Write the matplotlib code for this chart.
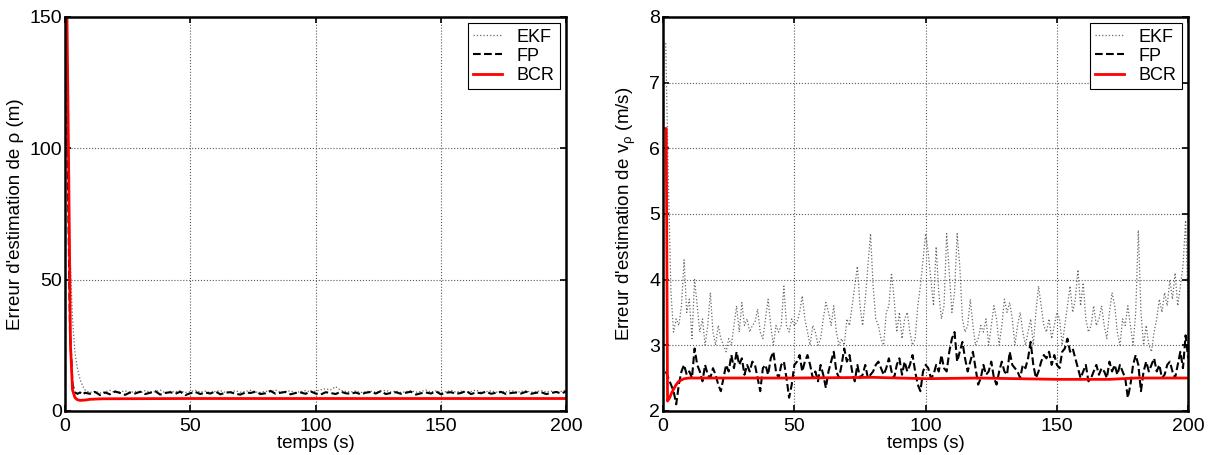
import numpy as np
import matplotlib
matplotlib.use("Agg")
from matplotlib import pyplot as plt

plt.rcParams['font.family'] = ['Liberation Sans', 'DejaVu Sans']
plt.rcParams['mathtext.fontset'] = 'custom'
plt.rcParams['mathtext.rm'] = 'Liberation Sans'
plt.rcParams['mathtext.it'] = 'Liberation Sans'
plt.rcParams['font.size'] = 14

# ---- left panel : erreur sur rho ----
t_ekf_l_start = [0.5, 1, 2, 3, 4, 5, 6, 7, 8, 9]
ekf_l_start = [150, 120, 60, 35, 22, 16, 12, 9.5, 8, 7.4]
t_fp_l_start = [0.5, 1, 2, 3, 4, 5, 6, 7, 8]
fp_l_start = [150, 100, 30, 10, 7, 6.5, 7, 6.2, 6.9]
t_l_noise = list(range(10, 201, 2))
fp_l_noise = [
    6.5, 7.2, 6.0, 7.0, 6.3, 7.4, 6.8, 6.1, 7.0, 6.6, 7.3, 6.4, 6.9, 7.5, 6.2, 6.8, 7.1, 6.5, 7.3, 6.0,
    6.7, 7.2, 6.4, 7.0, 6.6, 7.4, 6.3, 6.9, 7.1, 6.5, 6.2, 7.0, 6.8, 7.3, 6.4, 6.7, 7.6, 6.5, 6.9, 7.2,
    6.3, 6.8, 7.0, 6.5, 7.4, 6.6, 6.2, 7.1, 6.8, 6.4, 7.3, 6.7, 6.5, 7.0, 6.3, 6.9, 7.2, 6.6, 7.5, 6.4,
    6.8, 7.1, 6.5, 6.9, 7.3, 6.2, 6.7, 7.0, 6.6, 7.4, 6.3, 6.9, 7.1, 6.5, 6.8, 7.6, 6.4, 7.0, 6.7, 7.3,
    6.5, 6.9, 7.2, 6.4, 6.8, 7.0, 6.6, 7.3, 6.5, 6.9, 7.1, 6.4, 6.8, 7.2, 6.6, 7.4]
ekf_l_noise = [
    7.0, 7.5, 6.8, 7.3, 7.8, 6.9, 7.2, 7.6, 7.0, 7.4, 6.8, 7.7, 7.1, 7.3, 7.9, 6.9, 7.4, 7.2, 7.6, 7.0,
    7.3, 7.8, 7.1, 7.5, 6.9, 7.4, 7.7, 7.0, 7.3, 7.6, 7.1, 7.4, 7.8, 7.2, 7.0, 7.5, 7.3, 7.9, 7.1, 7.4,
    7.6, 7.0, 7.3, 7.7, 7.2, 7.5, 8.0, 8.4, 8.0, 9.2, 7.8, 7.4, 7.2, 7.6, 7.0, 7.3, 7.5, 7.1, 7.4, 7.8,
    7.2, 7.5, 7.0, 7.3, 7.7, 7.1, 7.4, 7.9, 7.2, 7.6, 7.0, 7.3, 7.8, 7.1, 7.5, 7.2, 7.4, 7.9, 7.0, 7.3,
    7.6, 7.1, 7.5, 7.2, 7.8, 7.0, 7.4, 7.6, 7.1, 7.3, 7.7, 7.2, 7.5, 7.0, 7.4, 8.0]
t_bcr_l = [0.8, 1.5, 2.2, 3, 4, 5, 6, 8, 10, 15, 50, 100, 150, 200]
bcr_l = [150, 90, 25, 8, 5, 4.2, 4.0, 4.1, 4.4, 4.6, 4.7, 4.7, 4.7, 4.7]

# ---- right panel : erreur sur v_rho ----
t_r = list(range(1, 201))
ekf_r = [
    7.6, 5.5, 3.8, 3.2, 3.4, 3.3, 3.6, 4.3, 3.5, 3.7, 3.1, 4.0, 3.6, 3.2, 3.4, 3.0, 3.3, 3.8, 3.2, 3.0,
    3.3, 3.1, 3.0, 2.9, 3.1, 3.0, 3.3, 3.6, 3.2, 3.65, 3.3, 3.4, 3.2, 3.3, 3.35, 3.55, 3.2, 3.1, 3.4, 3.7,
    3.3, 3.0, 3.3, 3.2, 3.3, 3.9, 3.3, 3.2, 3.4, 3.3, 3.35, 3.5, 3.75, 3.4, 3.2, 3.0, 3.3, 3.2, 3.0, 3.1,
    3.4, 3.65, 3.5, 3.3, 3.6, 3.2, 3.0, 3.1, 3.0, 3.4, 3.3, 3.6, 3.9, 4.2, 3.6, 3.3, 3.7, 4.2, 4.7, 3.9,
    3.4, 3.3, 3.1, 3.0, 3.5, 3.6, 4.1, 3.7, 3.2, 3.5, 3.1, 3.4, 3.5, 3.2, 3.0, 3.1, 3.6, 3.9, 4.3, 4.7,
    4.4, 4.0, 3.6, 4.5, 3.8, 3.4, 3.6, 4.7, 4.1, 3.5, 3.8, 4.7, 4.2, 3.4, 3.2, 3.3, 3.7, 3.3, 3.0, 3.1,
    3.3, 3.2, 3.4, 3.0, 3.3, 3.6, 3.4, 3.0, 3.3, 3.7, 3.5, 3.65, 3.4, 3.0, 3.3, 3.5, 3.2, 3.0, 3.2, 3.4,
    3.0, 3.5, 3.9, 3.6, 3.3, 3.2, 3.4, 3.1, 3.3, 3.5, 3.4, 3.0, 3.3, 3.6, 3.9, 3.5, 3.7, 4.15, 3.6, 3.95,
    3.4, 3.2, 3.3, 3.6, 3.3, 3.4, 3.6, 3.3, 3.1, 3.5, 3.8, 3.6, 3.2, 3.0, 3.4, 3.3, 3.6, 3.3, 3.0, 3.5,
    4.75, 3.5, 3.0, 3.3, 3.0, 2.9, 3.2, 3.4, 3.7, 3.5, 3.8, 3.6, 4.0, 3.7, 4.1, 3.6, 3.9, 4.2, 4.9, 3.6]
fp_r = [
    2.6, 2.5, 2.4, 2.3, 2.1, 2.4, 2.6, 2.7, 2.55, 2.6, 2.5, 2.95, 2.7, 2.6, 2.45, 2.7, 2.55, 2.5, 2.65, 2.55,
    2.4, 2.3, 2.5, 2.7, 2.6, 2.85, 2.65, 2.9, 2.7, 2.8, 2.55, 2.7, 2.6, 2.75, 2.7, 2.5, 2.3, 2.65, 2.7, 2.55,
    2.8, 2.9, 2.6, 2.5, 2.7, 2.75, 2.5, 2.2, 2.4, 2.7, 2.75, 2.85, 2.6, 2.75, 2.85, 2.7, 2.5, 2.6, 2.45, 2.7,
    2.55, 2.35, 2.6, 2.75, 2.9, 2.6, 2.5, 2.7, 2.95, 2.75, 2.85, 2.6, 2.45, 2.7, 2.5, 2.55, 2.7, 2.5, 2.55, 2.6,
    2.7, 2.75, 2.65, 2.55, 2.65, 2.8, 2.6, 2.5, 2.7, 2.8, 2.55, 2.75, 2.6, 2.7, 2.85, 2.6, 2.4, 2.3, 2.6, 2.7,
    2.65, 2.5, 2.55, 2.7, 2.6, 2.85, 2.65, 2.6, 2.9, 3.1, 3.2, 2.75, 2.9, 3.05, 2.8, 2.6, 2.75, 2.9, 2.65, 2.4,
    2.5, 2.7, 2.55, 2.6, 2.75, 2.5, 2.4, 2.6, 2.75, 2.6, 2.55, 2.9, 2.7, 2.65, 2.6, 2.5, 2.7, 2.65, 2.8, 3.05,
    2.7, 2.5, 2.6, 2.75, 2.85, 2.8, 2.9, 2.7, 2.85, 2.7, 2.65, 2.9, 2.95, 3.1, 2.9, 2.95, 2.8, 2.65, 2.5, 2.6,
    2.7, 2.45, 2.5, 2.6, 2.7, 2.55, 2.65, 2.6, 2.5, 2.75, 2.6, 2.7, 2.55, 2.7, 2.6, 2.5, 2.2, 2.4, 2.7, 2.85,
    2.7, 2.3, 2.6, 2.75, 2.6, 2.7, 2.8, 2.6, 2.7, 2.5, 2.55, 2.7, 2.75, 2.6, 2.5, 2.7, 2.9, 2.65, 3.15, 2.8]
t_bcr_r = [1, 1.2, 1.7, 2.5, 3, 4, 5, 6, 8, 10, 20, 50, 80, 100, 120, 150, 170, 180, 200]
bcr_r = [6.3, 6.3, 2.15, 2.2, 2.25, 2.33, 2.4, 2.45, 2.49, 2.5, 2.5, 2.5, 2.51, 2.49, 2.5, 2.48, 2.48, 2.5, 2.5]


def styleAxes(ax, ylim, yticks):
    ax.set_xlim(0, 200)
    ax.set_ylim(*ylim)
    ax.set_xticks([0, 50, 100, 150, 200])
    ax.set_yticks(yticks)
    ax.grid(True, linestyle=':', color='0.35', linewidth=0.8)
    ax.tick_params(direction='in', top=True, right=True, length=4, width=1.2,
                   labelsize=14)
    ax.tick_params(axis='x', pad=5)
    ax.tick_params(axis='y', pad=2)
    for s in ax.spines.values():
        s.set_linewidth(1.8)
    ax.set_xlabel("temps (s)", labelpad=0, fontsize=13.5)
    leg = ax.legend(loc='upper right', fancybox=False, framealpha=1,
                    edgecolor='black', handlelength=1.6, borderaxespad=0.35,
                    labelspacing=0.12, borderpad=0.3, handletextpad=0.8, fontsize=13)
    leg.get_frame().set_linewidth(0.8)


fig = plt.figure(figsize=(12.1, 4.55), dpi=100)
ax1 = fig.add_axes([0.0537, 0.097, 0.4143, 0.866])
ax2 = fig.add_axes([0.548, 0.097, 0.434, 0.866])

ax1.plot(t_ekf_l_start + t_l_noise, ekf_l_start + ekf_l_noise, linestyle=':', color='0.4', lw=0.9, label='EKF')
ax1.plot(t_fp_l_start + t_l_noise, fp_l_start + fp_l_noise, linestyle='--', color='black', lw=1.5, label='FP')
ax1.plot(t_bcr_l, bcr_l, color='red', lw=2, label='BCR')
ax1.set_ylabel("Erreur d'estimation de ρ (m)", fontsize=13.5, labelpad=4)
styleAxes(ax1, (0, 150), [0, 50, 100, 150])

ax2.plot(t_r, ekf_r, linestyle=':', color='0.4', lw=0.9, label='EKF')
ax2.plot(t_r, fp_r, linestyle='--', color='black', lw=1.5, label='FP')
ax2.plot(t_bcr_r, bcr_r, color='red', lw=2, label='BCR')
ax2.set_ylabel(r"Erreur d'estimation de v$_{ρ}$ (m/s)", fontsize=13.5, labelpad=8)
styleAxes(ax2, (2, 8), [2, 3, 4, 5, 6, 7, 8])

fig.savefig("out.png", dpi=100)
